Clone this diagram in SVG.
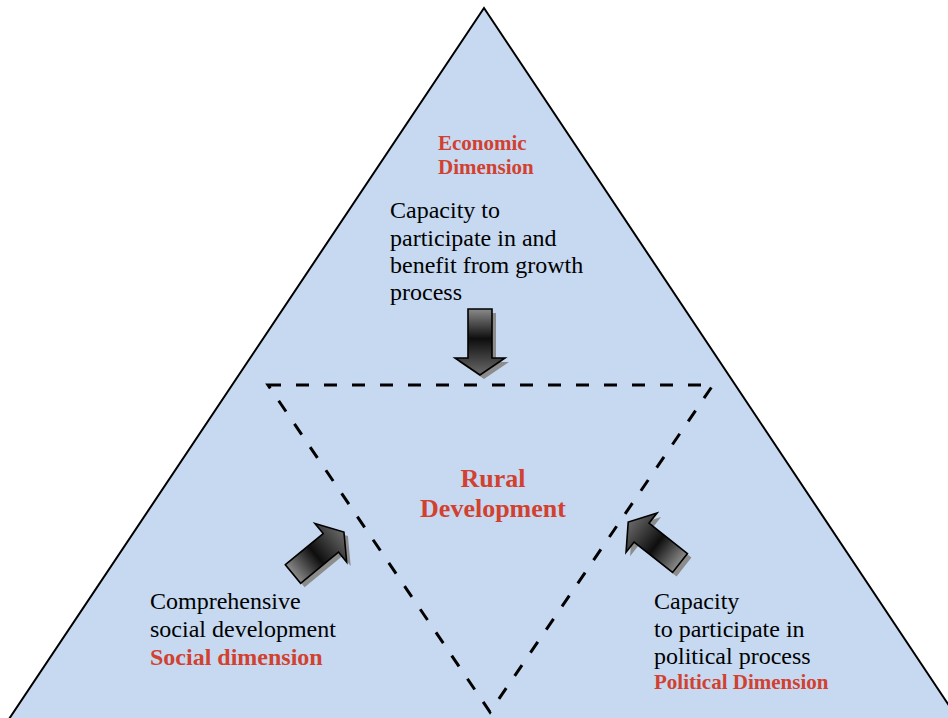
<svg xmlns="http://www.w3.org/2000/svg" xmlns:xlink="http://www.w3.org/1999/xlink" width="948" height="718" viewBox="0 0 948 718">
<style>
text{font-family:"Liberation Serif","Times New Roman",serif;}
.b{font-size:24px;fill:#000;}
.r{font-weight:bold;fill:#d2412f;}
.dash{fill:none;stroke:#000;stroke-width:3;stroke-dasharray:13 15;}
.arr{fill:url(#ag);stroke:#000;stroke-width:1.6;stroke-linejoin:miter;}
.sh{fill:#8c8c8c;}
</style>
<defs>
<linearGradient id="ag" gradientUnits="userSpaceOnUse" x1="0" y1="0" x2="66" y2="0">
<stop offset="0" stop-color="#8a8a8a"/>
<stop offset="0.45" stop-color="#0e0e0e"/>
<stop offset="1" stop-color="#6a6a6a"/>
</linearGradient>
<path id="ap" d="M0,-12 L49,-12 L49,-25 L66,0 L49,25 L49,12 L0,12 Z"/>
</defs>
<rect width="948" height="718" fill="#fff"/>
<g id="outer">
<polygon points="484,8 7,722 960,722" fill="#c6d9f1" stroke="#000" stroke-width="2"/>
</g>
<g id="inner">
<polygon class="dash" points="268,385 713,385 490,712"/>
</g>
<g id="economic">
<text class="r" x="438" y="150" font-size="21">Economic</text>
<text class="r" x="438" y="174" font-size="21">Dimension</text>
<text class="b" x="390" y="218">Capacity to</text>
<text class="b" x="390" y="246">participate in and</text>
<text class="b" x="390" y="273">benefit from growth</text>
<text class="b" x="390" y="300">process</text>
</g>
<g id="rural">
<text class="r" x="493" y="487" font-size="26" text-anchor="middle">Rural</text>
<text class="r" x="493" y="517" font-size="26" text-anchor="middle">Development</text>
</g>
<g id="social">
<text class="b" x="150" y="609">Comprehensive</text>
<text class="b" x="150" y="637">social development</text>
<text class="r" x="150" y="665" font-size="24">Social dimension</text>
</g>
<g id="political">
<text class="b" x="654" y="609">Capacity</text>
<text class="b" x="654" y="637">to participate in</text>
<text class="b" x="654" y="664">political process</text>
<text class="r" x="654" y="689" font-size="21">Political Dimension</text>
</g>
<g id="connectors">
<use xlink:href="#ap" class="sh" transform="translate(4,4) translate(480,309) rotate(90)"/>
<use xlink:href="#ap" class="arr" transform="translate(480,309) rotate(90)"/>
<use xlink:href="#ap" class="sh" transform="translate(4,4) translate(293,574) rotate(-39.5)"/>
<use xlink:href="#ap" class="arr" transform="translate(293,574) rotate(-39.5)"/>
<use xlink:href="#ap" class="sh" transform="translate(4,4) translate(680,563) rotate(-141.7)"/>
<use xlink:href="#ap" class="arr" transform="translate(680,563) rotate(-141.7)"/>
</g>
</svg>
